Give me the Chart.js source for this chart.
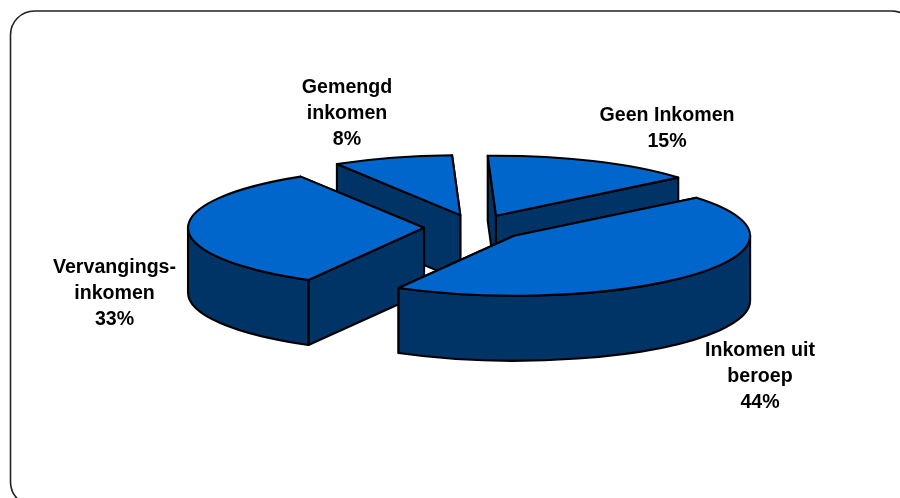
<!DOCTYPE html>
<html>
<head>
<meta charset="utf-8">
<title>Inkomen</title>
<script src="https://cdn.jsdelivr.net/npm/chart.js@4"></script>
<style>
    html, body { margin: 0; padding: 0; background: #fff; overflow: hidden; }
    canvas { display: block; }
</style>
</head>
<body>
<canvas id="income-pie" width="900" height="498"></canvas>
<script>
// Values (slice sizes estimated, labels are rounded)
const categories = ["Geen Inkomen", "Inkomen uit beroep", "Vervangingsinkomen", "Gemengd inkomen"];
const values = [14.6, 44.1, 33.1, 8.2];
const labelLines = [
    ["Geen Inkomen"],
    ["Inkomen uit", "beroep"],
    ["Vervangings-", "inkomen"],
    ["Gemengd", "inkomen"]
];

// Look of the fake 3D pie
const TOP_COLOR = "#0066cc";
const SIDE_COLOR = "#003366";
const EDGE_COLOR = "#000000";
const EDGE_WIDTH = 2.1;
const SQUASH = 0.254;   // ellipse height / width
const DEPTH = 65;       // height of the walls, px
const EXPLODE = 51;     // slice pull-out, px
const RADIUS = 236;
const PAINT_ORDER = [3, 0, 2, 1]; // back slices first

// Top-centre of each label block, same order as the categories
const labelAnchors = [
    { x: 667, y: 115.5 },
    { x: 760, y: 350.5 },
    { x: 114.5, y: 267.5 },
    { x: 347, y: 87.5 }
];

function drawFrame(ctx) {
    ctx.save();
    ctx.beginPath();
    ctx.roundRect(10.5, 11, 905, 495, 24);
    ctx.strokeStyle = "#222222";
    ctx.lineWidth = 1.6;
    ctx.stroke();
    ctx.restore();
}

function strokeEdge(ctx) {
    ctx.strokeStyle = EDGE_COLOR;
    ctx.lineWidth = EDGE_WIDTH;
    ctx.lineJoin = "round";
    ctx.stroke();
}

function fillSide(ctx) {
    ctx.fillStyle = SIDE_COLOR;
    ctx.fill();
    strokeEdge(ctx);
}

// Walls and top of one slice, walls go first so the top covers them
function drawSlice(ctx, arc) {
    const start = arc.startAngle;
    const end = arc.endAngle;
    const mid = (start + end) / 2;
    const baseY = arc.y;
    const x0 = arc.x + Math.cos(mid) * EXPLODE;
    const y0 = baseY + Math.sin(mid) * EXPLODE * SQUASH;
    const ry = RADIUS * SQUASH;

    // Straight cut faces, the one nearest the viewer last
    const corners = [start, end]
        .map(a => ({ x: x0 + Math.cos(a) * RADIUS, y: y0 + Math.sin(a) * ry }))
        .sort((a, b) => a.y - b.y);
    corners.forEach(c => {
        ctx.beginPath();
        ctx.moveTo(x0, y0);
        ctx.lineTo(c.x, c.y);
        ctx.lineTo(c.x, c.y + DEPTH);
        ctx.lineTo(x0, y0 + DEPTH);
        ctx.closePath();
        fillSide(ctx);
    });

    // Curved outer wall, only the front half of the ellipse shows
    const lo = Math.max(start, 0);
    const hi = Math.min(end, Math.PI);
    if (hi > lo) {
        ctx.beginPath();
        ctx.ellipse(x0, y0, RADIUS, ry, 0, lo, hi);
        ctx.ellipse(x0, y0 + DEPTH, RADIUS, ry, 0, hi, lo, true);
        ctx.closePath();
        fillSide(ctx);
    }

    // Top face: the library's arc, squashed and moved into place
    ctx.save();
    ctx.translate(0, baseY);
    ctx.scale(1, SQUASH);
    ctx.translate(0, -baseY);
    ctx.translate(Math.cos(mid) * EXPLODE, Math.sin(mid) * EXPLODE);
    arc.draw(ctx);
    ctx.restore();

    ctx.beginPath();
    ctx.moveTo(x0, y0);
    ctx.ellipse(x0, y0, RADIUS, ry, 0, start, end);
    ctx.closePath();
    strokeEdge(ctx);
}

const pie3d = {
    id: "pie3d",
    beforeDraw(chart) {
        drawFrame(chart.ctx);
    },
    // Replace the flat draw with the painter's order
    beforeDatasetDraw(chart, args) {
        const arcs = chart.getDatasetMeta(args.index).data;
        PAINT_ORDER.forEach(i => drawSlice(chart.ctx, arcs[i]));
        return false;
    },
    afterDraw(chart) {
        const ctx = chart.ctx;
        ctx.save();
        ctx.fillStyle = "#000";
        ctx.font = 'bold 19.6px "Liberation Sans", Arial, sans-serif';
        ctx.textAlign = "center";
        ctx.textBaseline = "middle";
        categories.forEach((name, i) => {
            const lines = labelLines[i].concat(Math.round(values[i]) + "%");
            lines.forEach((line, n) => {
                ctx.fillText(line, labelAnchors[i].x, labelAnchors[i].y + n * 26);
            });
        });
        ctx.restore();
    }
};

new Chart(document.getElementById("income-pie").getContext("2d"), {
    type: "pie",
    data: {
        labels: categories,
        datasets: [{
            data: values,
            backgroundColor: TOP_COLOR,
            borderWidth: 0
        }]
    },
    options: {
        responsive: false,
        animation: false,
        rotation: -2,
        radius: RADIUS,
        layout: { padding: { left: 50, bottom: 43 } },
        plugins: {
            legend: { display: false },
            tooltip: { enabled: false }
        }
    },
    plugins: [pie3d]
});
</script>
</body>
</html>
